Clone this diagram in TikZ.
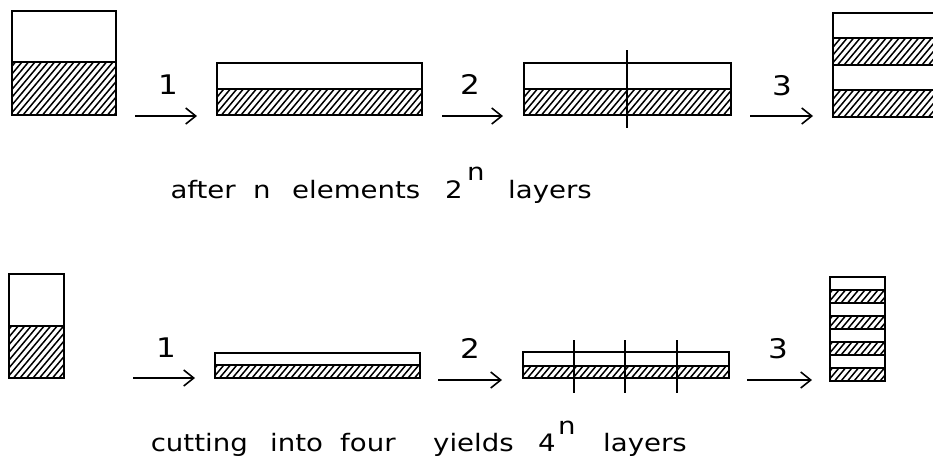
\documentclass[tikz,border=0pt]{standalone}
\usepackage{fontspec}
\newfontfamily\plotfont[FakeStretch=1.15]{DejaVu Sans}
\usetikzlibrary{arrows.meta}
\tikzset{
  outline/.style={draw=black,line width=2.6pt},
  hatchline/.style={draw=black,line width=1.5pt},
  cutline/.style={draw=black,line width=1.1pt},
  conn/.style={draw=black,line width=1.7pt,-{Straight Barb[length=10pt,width=16pt,line width=1.6pt]}},
  txt/.style={inner sep=0pt,anchor=base west,font=\plotfont\fontsize{24}{27}\selectfont},
  txte/.style={inner sep=0pt,anchor=base east,font=\plotfont\fontsize{24}{27}\selectfont},
  lbl/.style={inner sep=0pt,anchor=base,font=\plotfont\fontsize{27}{30}\selectfont}
}
% hatched band: x1, y1(top), x2, y2(bottom)
\newcommand{\hatchband}[4]{%
  \begin{scope}
    \clip (#1,#2) rectangle (#3,#4);
    \pgfmathsetmacro{\hbw}{#3-#1+6}
    \foreach \s in {-63,-56.5,...,\hbw}{
      \draw[hatchline] ({#1+\s},{#4+3}) -- ++(60,-71.5);
    }
  \end{scope}}
\begin{document}
\begin{tikzpicture}[x=1pt,y=-1pt]
\clip (0,0) rectangle (933,467);
\fill[white] (0,0) rectangle (933,467);
% ---------- top row ----------
% box 1
\hatchband{12}{62}{116}{115}
\draw[outline] (12,11) rectangle (116,115);
\draw[outline] (12,62) -- (116,62);
% box 2
\hatchband{217}{89}{422}{115}
\draw[outline] (217,63) rectangle (422,115);
\draw[outline] (217,89) -- (422,89);
% box 3
\hatchband{524}{89}{731}{115}
\draw[outline] (524,63) rectangle (731,115);
\draw[outline] (524,89) -- (731,89);
\coordinate (c1t) at (627,50); \coordinate (c1b) at (627,128);
\draw[cutline] (c1t) -- (c1b);
% box 4
\hatchband{833}{38}{950}{65}
\hatchband{833}{90}{950}{117}
\draw[outline] (833,13) rectangle (950,117);
\draw[outline] (833,38) -- (950,38) (833,65) -- (950,65) (833,90) -- (950,90);
% arrows
\coordinate (a1s) at (135,116); \coordinate (a1e) at (197,116);
\coordinate (a2s) at (442,116); \coordinate (a2e) at (503,116);
\coordinate (a3s) at (750,116); \coordinate (a3e) at (813,116);
\draw[conn] (a1s) -- (a1e);
\draw[conn] (a2s) -- (a2e);
\draw[conn] (a3s) -- (a3e);
\node[lbl] (l1) at (168,94) {1};
\node[lbl] (l2) at (470,94) {2};
\node[lbl] (l3) at (782,95) {3};
% caption top
\node[txte] (t1) at (236,198) {after};
\node[txt] (t2) at (253,198) {n};
\node[txt] (t3) at (292,198) {elements};
\node[txt] (t4) at (445,198) {2};
\node[txt] (t5) at (467,180) {n};
\node[txt] (t6) at (508,198) {layers};
% ---------- bottom row ----------
% box 1
\hatchband{9}{326}{64}{378}
\draw[outline] (9,274) rectangle (64,378);
\draw[outline] (9,326) -- (64,326);
% box 2
\hatchband{215}{365}{420}{378}
\draw[outline] (215,353) rectangle (420,378);
\draw[outline] (215,365) -- (420,365);
% box 3
\hatchband{523}{366}{729}{378}
\draw[outline] (523,352) rectangle (729,378);
\draw[outline] (523,366) -- (729,366);
\coordinate (d1t) at (574,340); \coordinate (d1b) at (574,393);
\coordinate (d2t) at (625,340); \coordinate (d2b) at (625,393);
\coordinate (d3t) at (677,340); \coordinate (d3b) at (677,393);
\draw[cutline] (d1t) -- (d1b);
\draw[cutline] (d2t) -- (d2b);
\draw[cutline] (d3t) -- (d3b);
% box 4 (8 layers)
\foreach \i in {0,1,2,3}{
  \pgfmathsetmacro{\ya}{277+13*(2*\i+1)}
  \pgfmathsetmacro{\yb}{277+13*(2*\i+2)}
  \hatchband{830}{\ya}{885}{\yb}
}
\draw[outline] (830,277) rectangle (885,381);
\foreach \k in {1,...,7}{
  \draw[outline] (830,{277+13*\k}) -- (885,{277+13*\k});
}
% arrows
\coordinate (b1s) at (133,378); \coordinate (b1e) at (195,378);
\coordinate (b2s) at (438,380); \coordinate (b2e) at (502,380);
\coordinate (b3s) at (747,380); \coordinate (b3e) at (812,380);
\draw[conn] (b1s) -- (b1e);
\draw[conn] (b2s) -- (b2e);
\draw[conn] (b3s) -- (b3e);
\node[lbl] (m1) at (166,357) {1};
\node[lbl] (m2) at (470,358) {2};
\node[lbl] (m3) at (778,358) {3};
% caption bottom
\node[txte] (u1) at (248,451) {cutting};
\node[txt] (u2) at (270,451) {into};
\node[txt] (u3) at (340,451) {four};
\node[txt] (u4) at (433,451) {yields};
\node[txt] (u5) at (538,451) {4};
\node[txt] (u6) at (558,434) {n};
\node[txt] (u7) at (603,451) {layers};
\end{tikzpicture}
\end{document}
